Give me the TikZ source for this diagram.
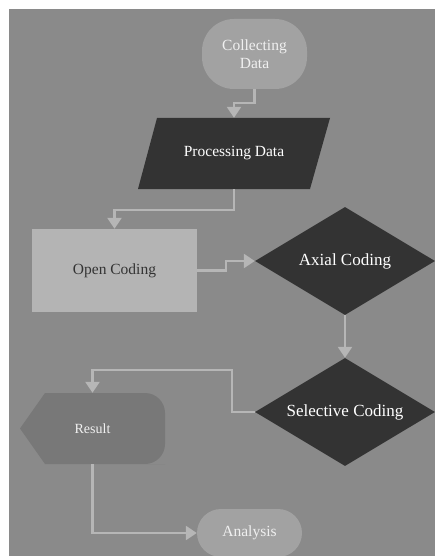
\documentclass[tikz,border=0pt]{standalone}
\usepackage{fontspec}
\setmainfont{Liberation Serif}
\usetikzlibrary{shapes.geometric,arrows.meta}
\definecolor{bg}{HTML}{8A8A8A}
\definecolor{light}{HTML}{A2A2A2}
\definecolor{lighter}{HTML}{B4B4B4}
\definecolor{dark}{HTML}{333333}
\definecolor{resfill}{HTML}{787878}
\definecolor{conncol}{HTML}{B6B6B6}
\tikzset{
  base/.style={inner sep=0pt, align=center},
  terminal/.style={base, rectangle, rounded corners=#1, fill=light, text=white!94!black},
  iobox/.style={base, rectangle, text=white, minimum width=172pt, minimum height=71pt},
  procbox/.style={base, rectangle, fill=lighter, text=dark, minimum width=165pt, minimum height=83pt},
  decision/.style={base, diamond, aspect=1.67, fill=dark, text=white, minimum width=180pt, minimum height=108pt, font=\fontsize{17}{19}\selectfont},
  conn/.style={draw=conncol, line width=2.4pt, -{Triangle[width=14pt,length=11pt]}},
}
\begin{document}
\begin{tikzpicture}[x=1pt,y=-1pt]
\useasboundingbox (0,0) rectangle (435,556);
\fill[white] (0,0) rectangle (435,556);
\fill[bg] (9,9) rectangle (435,556);

\node[terminal=32pt, minimum width=105pt, minimum height=70pt, font=\fontsize{15.5}{18}\selectfont] (coll) at (254.5,54) {Collecting\\Data};

% parallelogram
\fill[dark] (157,118) -- (330,118) -- (310,189) -- (138,189) -- cycle;
\node[iobox, font=\fontsize{15.5}{18}\selectfont] (proc) at (234,153.5) {Processing Data};

\node[procbox, font=\fontsize{15.5}{18}\selectfont] (open) at (114.5,270.5) {Open Coding};
\node[decision] (axial) at (345,261) {Axial Coding};
\node[decision] (sel) at (345,412) {Selective Coding};

% Result shape (display shape)
\fill[resfill, rounded corners=20pt] (145,393) -- (165,393) -- (165,464) -- (145,464) [sharp corners] -- (45,464) -- (20,428.5) -- (45,393) -- cycle;
\node[base, minimum width=145pt, minimum height=71pt, text=white!94!black, font=\fontsize{14}{16}\selectfont] (res) at (92.5,428.5) {Result};

\node[terminal=24pt, minimum width=105pt, minimum height=48pt, font=\fontsize{15.5}{18}\selectfont] (ana) at (249.5,533) {Analysis};

\draw[conn] (coll.south) -- ++(0,14) -| (proc.north);
\draw[conn] (proc.south) -- ++(0,21) -| (open.north);
\draw[conn] (open.east) -- ++(29,0) |- (axial.west);
\draw[conn] (axial.south) -- (sel.north);
\draw[conn] (sel.west) -- ++(-23,0) -- ++(0,-42) -| (res.north);
\draw[conn] (res.south) |- (ana.west);
\end{tikzpicture}
\end{document}
